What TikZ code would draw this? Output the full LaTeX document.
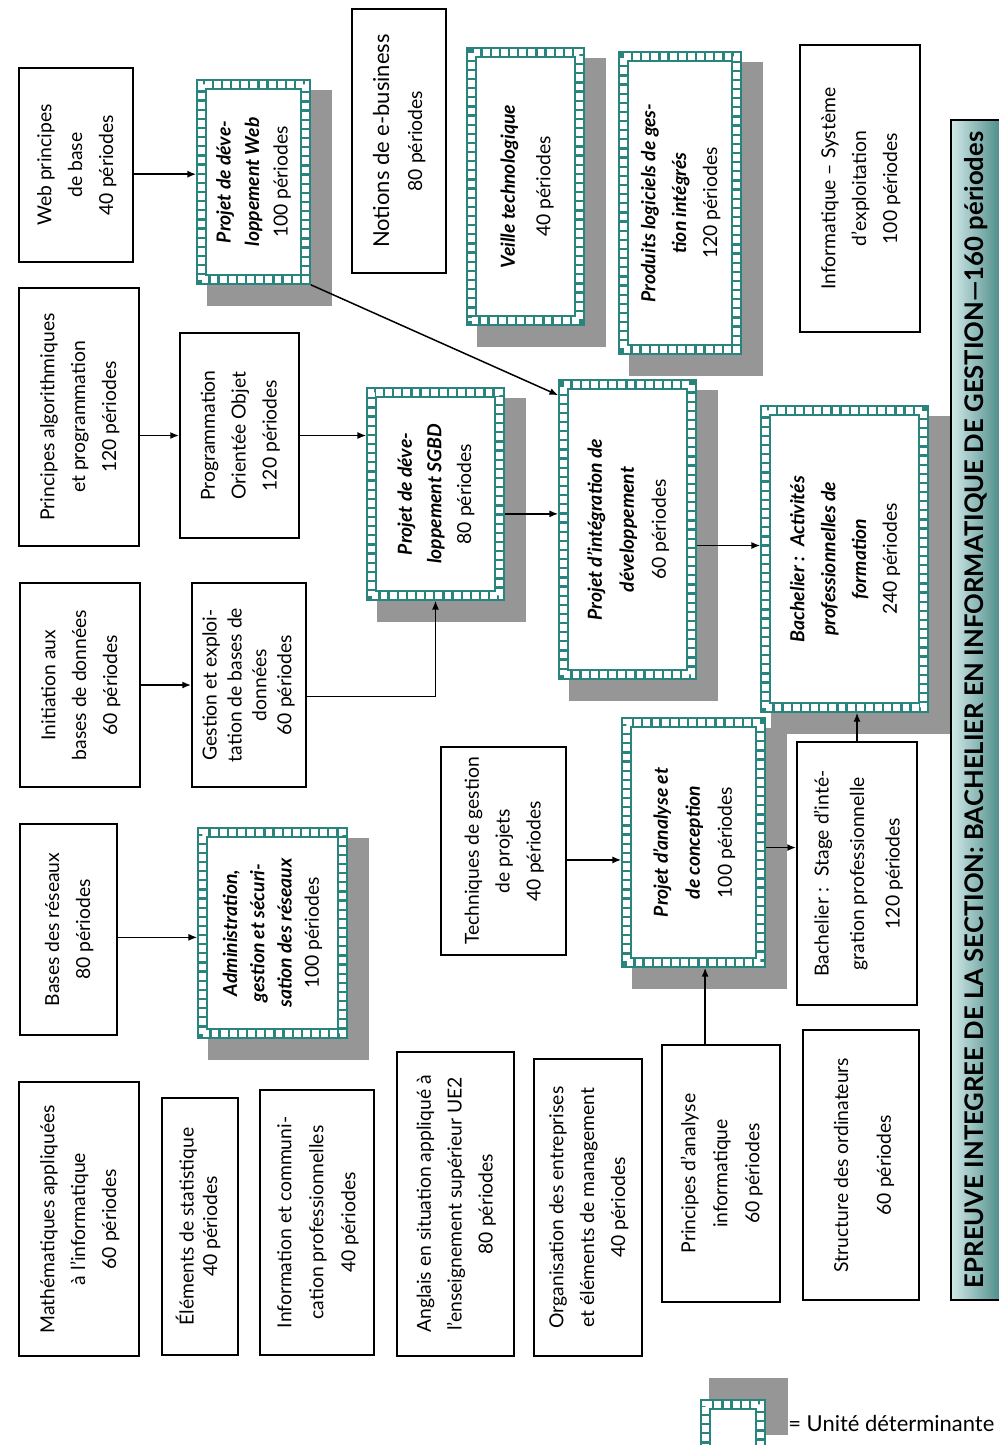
\documentclass[tikz,border=0pt]{standalone}
\usepackage{fontspec}
\setmainfont{Lato}
\usepackage{graphicx}
\usetikzlibrary{positioning, calc, backgrounds, arrows.meta}

\definecolor{detteal}{RGB}{42,132,126}
\definecolor{shadowgray}{RGB}{150,150,150}
\definecolor{epilight}{RGB}{210,233,233}
\definecolor{epidark}{RGB}{76,140,136}

% rotated, centred lines of text
\newcommand{\vt}[2][1.3]{\rotatebox{90}{\def\arraystretch{#1}\begin{tabular}{@{}c@{}}#2\end{tabular}}}
\newcommand{\bi}[1]{\textbf{\textit{#1}}}

\tikzset{
  sz/.style 2 args={minimum width=#1*0.02cm, minimum height=#2*0.02cm},
  unit/.style={draw, line width=1.1pt, fill=white, inner sep=0pt, font=\fontsize{11}{13.5}\selectfont},
  det/.style={draw=detteal, line width=6pt, fill=white, inner sep=0pt, outer sep=3pt,
    font=\fontsize{11}{13.5}\selectfont,
    postaction={draw=white, line width=3.9pt, dash pattern=on 3.9pt off 1.3pt}},
  epi/.style={draw, line width=1.1pt, left color=epilight, right color=epidark, inner sep=0pt},
  link/.style={line width=0.85pt, -{Latex[length=5pt, width=4pt]}},
}

\begin{document}
\begin{tikzpicture}[x=0.02cm, y=-0.02cm]
        \useasboundingbox (0,0) rectangle (999,1445);

        % first column
        \node[unit, sz={114}{194}] (web) at (76,165) {\vt{Web principes\\de base\\40 périodes}};
        \node[unit, sz={120}{258}] (algo) at (79,417) {\vt{Principes algorithmiques\\et programmation\\120 périodes}};
        \node[unit, sz={120}{204}] (init) at (80,685) {\vt{Initiation aux\\bases de données\\60 périodes}};
        \node[unit, sz={97}{211}] (bres) at (68.5,929.5) {\vt{Bases des réseaux\\80 périodes}};
        \node[unit, sz={120}{274}] (math) at (79,1219) {\vt{Mathématiques appliquées\\à l’informatique\\60 périodes}};

        % second column
        \node[det, sz={104}{195}] (webp) at (253.5,182) {\vt[1.2]{\bi{Projet de déve-}\\\bi{loppement Web}\\100 périodes}};
        \node[unit, sz={119}{205}] (poo) at (239.5,435.5) {\vt{Programmation\\Orientée Objet\\120 périodes}};
        \node[unit, sz={114}{204}] (gest) at (249,685) {\vt[1.05]{Gestion et exploi-\\tation de bases de\\données\\60 périodes}};
        \node[det, sz={140}{201}] (admin) at (272.5,933) {\vt[1.15]{\bi{Administration,}\\\bi{gestion et sécuri-}\\\bi{sation des réseaux}\\100 périodes}};
        \node[unit, sz={76}{257}] (stat) at (200,1226.5) {\vt[1.0]{Éléments de statistique\\40 périodes}};
        \node[unit, sz={114}{265}] (icom) at (317,1222.5) {\vt[1.35]{Information et communi-\\cation professionnelles\\40 périodes}};

        % middle columns
        \node[unit, sz={94}{264}] (notions) at (399,141) {\vt[1.4]{{\fontsize{12.5}{15}\selectfont Notions de e-business}\\80 périodes}};
        \node[det, sz={108}{268}] (veille) at (525.5,186.5) {\vt[1.5]{\bi{Veille technologique}\\40 périodes}};
        \node[det, sz={113}{293}] (prod) at (680,203) {\vt{\bi{Produits logiciels de ges-}\\\bi{tion intégrés}\\120 périodes}};
        \node[det, sz={128}{203}] (sgbd) at (435.5,494) {\vt[1.25]{\bi{Projet de déve-}\\\bi{loppement SGBD}\\80 périodes}};
        \node[det, sz={128}{290}] (integ) at (627.5,529.5) {\vt[1.35]{\bi{Projet d’intégration de}\\\bi{développement}\\60 périodes}};
        \node[unit, sz={125}{208}] (tech) at (503.5,851) {\vt{Techniques de gestion\\de projets\\40 périodes}};
        \node[det, sz={134}{240}] (anal) at (693.5,842.5) {\vt[1.35]{\bi{Projet d’analyse et}\\\bi{de conception}\\100 périodes}};
        \node[unit, sz={117}{304}] (angl) at (455.5,1204) {\vt{Anglais en situation appliqué à\\l’enseignement supérieur UE2\\80 périodes}};
        \node[unit, sz={108}{297}] (orga) at (588,1207.5) {\vt{Organisation des entreprises\\et éléments de management\\40 périodes}};
        \node[unit, sz={118}{257}] (panal) at (721,1173.5) {\vt[1.35]{Principes d’analyse\\informatique\\60 périodes}};

        % right columns
        \node[unit, sz={120}{287}] (info) at (860,188.5) {\vt{Informatique – Système\\d’exploitation\\100 périodes}};
        \node[det, sz={158}{297}] (bach) at (844.5,559) {\vt{\bi{Bachelier~:~ Activités}\\\bi{professionnelles de}\\\bi{formation}\\240 périodes}};
        \node[unit, sz={120}{263}] (stage) at (857,873.5) {\vt[1.5]{Bachelier~:~ Stage d’inté-\\gration professionnelle\\120 périodes}};
        \node[unit, sz={116}{270}] (struct) at (861,1165) {\vt[1.8]{Structure des ordinateurs\\60 périodes}};

        \node[epi, sz={50}{1180}] (epi) at (976,710) {\rotatebox{90}{\bfseries\fontsize{14.6}{17}\selectfont EPREUVE INTEGREE DE LA SECTION: BACHELIER EN INFORMATIQUE DE GESTION—160 périodes}};

        % legend
        \node[det, sz={55}{52}] (legend) at (733,1430.5) {};
        \node[anchor=west, inner sep=0pt, font=\fontsize{12.5}{15}\selectfont] (legtext) at (788,1423) {= Unité déterminante};

        % shadows
        \begin{scope}[on background layer]
            \foreach \n in {webp,veille,prod,sgbd,integ,bach,admin,anal}
                \fill[shadowgray] ($(\n.north west)+(11,11)$) rectangle ($(\n.south east)+(21,21)$);
            \fill[shadowgray] ($(legend.north west)+(9,-21)$) rectangle ($(legend.north east)+(22,36)$);
        \end{scope}

        \draw[link] (web.-9) -- (web.-9 -| webp.west);
        \draw[link] (webp.south east) -- ($(integ.north west)+(0,16)$);
        \draw[link] (algo.east |- poo.west) -- (poo.west);
        \draw[link] (poo.east) -- (poo.east -| sgbd.west);
        \draw[link] (init.east) -- (init.east -| gest.west);
        \draw[link] (gest.-11) -| (sgbd.south);
        \draw[link] (sgbd.-16) -- (sgbd.-16 -| integ.west);
        \draw[link] (integ.-13) -- (integ.-13 -| bach.west);
        \draw[link] (bres.-9) -- (bres.-9 -| admin.west);
        \draw[link] (tech.-8) -- (tech.-8 -| anal.west);
        \draw[link] (anal.-4) -- (anal.-4 -| stage.west);
        \draw[link] (stage.north) -- (stage.north |- bach.south);
        \draw[link] (panal.97) -- (panal.97 |- anal.south);
\end{tikzpicture}
\end{document}
